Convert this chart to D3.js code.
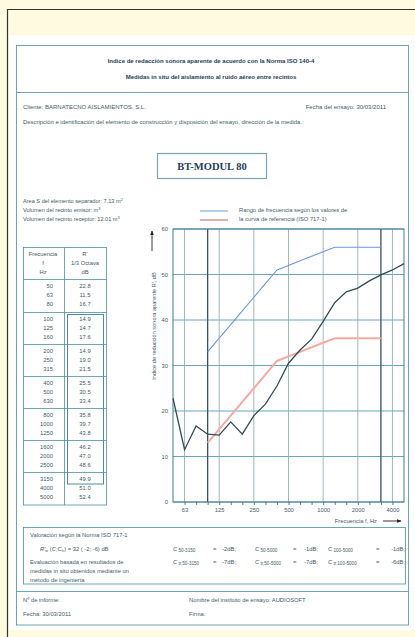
<!DOCTYPE html>
<html>
<head>
<meta charset="utf-8">
<script src="https://cdn.jsdelivr.net/npm/d3@7"></script>
<style>
  body { margin: 0; background: #fffae0; }
  svg { display: block; font-family: "Liberation Sans", Arial, sans-serif; }
</style>
</head>
<body>
<script>
// data
const freqs = [50, 63, 80, 100, 125, 160, 200, 250, 315, 400, 500, 630, 800, 1000, 1250, 1600, 2000, 2500, 3150, 4000, 5000];
const measured = [22.8, 11.5, 16.7, 14.9, 14.7, 17.6, 14.9, 19.0, 21.5, 25.5, 30.5, 33.4, 35.8, 39.7, 43.8, 46.2, 47.0, 48.6, 49.9, 51.0, 52.4];
const refFreqs = [100, 125, 160, 200, 250, 315, 400, 500, 630, 800, 1000, 1250, 1600, 2000, 2500, 3150];
const refCurve = [33, 36, 39, 42, 45, 48, 51, 52, 53, 54, 55, 56, 56, 56, 56, 56];
const shiftedCurve = [13, 16, 19, 22, 25, 28, 31, 32, 33, 34, 35, 36, 36, 36, 36, 36];
const octaveLabels = [63, 125, 250, 500, 1000, 2000, 4000];
const yTicks = [0, 10, 20, 30, 40, 50, 60];

const W = 415, H = 637;
const textCol = "#3f5b66", darkCol = "#22405a", lineCol = "#4a8ea2";

const svg = d3.select("body").append("svg").attr("width", W).attr("height", H);

// page background + outer frame
svg.append("rect").attr("width", W).attr("height", H).attr("fill", "#fffae0");
svg.append("rect").attr("x", 9).attr("y", 35).attr("width", W - 9).attr("height", 595).attr("fill", "#ffffff");
svg.append("line").attr("x1", 7.5).attr("x2", 7.5).attr("y1", 9).attr("y2", H).attr("stroke", "#333").attr("stroke-width", 1.2);
svg.append("line").attr("x1", 7).attr("x2", W).attr("y1", 9.5).attr("y2", 9.5).attr("stroke", "#333").attr("stroke-width", 1.2);

// document box
const doc = svg.append("g").attr("fill", "none").attr("stroke", lineCol).attr("stroke-width", 0.8);
doc.append("rect").attr("x", 16.5).attr("y", 45.5).attr("width", 392).attr("height", 579.5);
doc.append("line").attr("x1", 16.5).attr("x2", 408.5).attr("y1", 92.5).attr("y2", 92.5);
doc.append("line").attr("x1", 16.5).attr("x2", 408.5).attr("y1", 591.5).attr("y2", 591.5);
doc.append("rect").attr("x", 23.5).attr("y", 527.5).attr("width", 382).attr("height", 56.5);

function txt(x, y, s, opts = {}) {
  return svg.append("text").attr("x", x).attr("y", y)
    .attr("font-size", opts.size || 6)
    .attr("font-weight", opts.weight || "normal")
    .attr("text-anchor", opts.anchor || "start")
    .attr("fill", opts.fill || textCol)
    .text(s);
}

// header
txt(211, 63, "Indice de redacción sonora aparente de acuerdo con la Norma ISO 140-4", { size: 6, weight: "bold", anchor: "middle", fill: darkCol });
txt(211, 79, "Medidas in situ del aislamiento al ruido aéreo entre recintos", { size: 6, weight: "bold", anchor: "middle", fill: darkCol });
txt(23, 109, "Cliente: BARNATECNO AISLAMIENTOS, S.L.");
txt(386, 109, "Fecha del ensayo: 30/03/2011", { anchor: "end" });
txt(23, 124, "Descripción e identificación del elemento de construcción y disposición del ensayo, dirección de la medida.:", { size: 5.9 });

svg.append("rect").attr("x", 157.5).attr("y", 153.5).attr("width", 109).attr("height", 25)
  .attr("fill", "none").attr("stroke", "#7aa5b0").attr("stroke-width", 1.2);
svg.append("text").attr("x", 212).attr("y", 170).attr("text-anchor", "middle")
  .attr("font-family", "'Liberation Serif', 'DejaVu Serif', serif").attr("font-weight", "bold")
  .attr("font-size", 10.5).attr("fill", darkCol).text("BT-MODUL 80");

const area = txt(23, 203, "Area S del elemento separador: 7.13 m", { size: 5.6 });
area.append("tspan").attr("font-size", 4).attr("dy", -2).text("2");
const ve = txt(23, 212, "Volumen del recinto emisor:  m", { size: 5.6 });
ve.append("tspan").attr("font-size", 4).attr("dy", -2).text("3");
const vr = txt(23, 221, "Volumen del recinto receptor: 12.01 m", { size: 5.6 });
vr.append("tspan").attr("font-size", 4).attr("dy", -2).text("3");

// legend
svg.append("line").attr("x1", 200).attr("x2", 228).attr("y1", 211).attr("y2", 211).attr("stroke", "#6b97dc").attr("stroke-width", 1);
svg.append("line").attr("x1", 200).attr("x2", 228).attr("y1", 220).attr("y2", 220).attr("stroke", "#c8605a").attr("stroke-width", 1);
txt(239, 212, "Rango de frecuencia según los valores de", { size: 5.8 });
txt(239, 221, "la curva de referencia (ISO 717-1)", { size: 5.8 });

// table
const tX0 = 23.5, tX1 = 106.5, tMid = 64.5, tTop = 247.5, tHead = 279.5, tBot = 505;
const groupTops = [279.5, 312.5, 344.5, 376.5, 408.5, 440.5, 472.5];
const tab = svg.append("g").attr("fill", "none").attr("stroke", lineCol).attr("stroke-width", 0.8);
tab.append("rect").attr("x", tX0).attr("y", tTop).attr("width", tX1 - tX0).attr("height", tBot - tTop);
tab.append("line").attr("x1", tMid).attr("x2", tMid).attr("y1", tTop).attr("y2", tBot);
tab.selectAll("line.sep").data(groupTops).join("line").attr("class", "sep")
  .attr("x1", tX0).attr("x2", tX1).attr("y1", d => d).attr("y2", d => d);
tab.append("rect").attr("x", 67.5).attr("y", 314.5).attr("width", 36).attr("height", 169.5).attr("stroke-width", 1);

[["Frecuencia", "f", "Hz"], ["R'", "1/3 Octava", "dB"]].forEach((col, ci) => {
  col.forEach((s, ri) => txt(ci === 0 ? 43 : 85, 256 + ri * 9, s, { size: 5.8, anchor: "middle" }));
});
freqs.forEach((f, i) => {
  const g = Math.floor(i / 3), j = i % 3;
  const y = groupTops[g] + 8.3 + j * 9.3;
  txt(53, y, String(f), { size: 5.8, anchor: "end" });
  txt(85, y, measured[i].toFixed(1), { size: 5.8, anchor: "middle" });
});

// chart
const x = d3.scalePoint().domain(freqs).range([173, 404]);
const y = d3.scaleLinear().domain([0, 60]).range([502, 229]);
const chart = svg.append("g");

// horizontal grid
chart.selectAll("line.hg").data(yTicks).join("line").attr("class", "hg")
  .attr("x1", x(50)).attr("x2", x(5000)).attr("y1", d => y(d)).attr("y2", d => y(d))
  .attr("stroke", "#3f8fb0").attr("stroke-width", 0.8);
// vertical octave grid
chart.selectAll("line.vg").data(octaveLabels).join("line").attr("class", "vg")
  .attr("x1", d => x(d)).attr("x2", d => x(d)).attr("y1", y(60)).attr("y2", y(0))
  .attr("stroke", "#8aa4aa").attr("stroke-width", 0.8);
// range limits 100 Hz and 3150 Hz
chart.selectAll("line.lim").data([100, 3150]).join("line").attr("class", "lim")
  .attr("x1", d => x(d)).attr("x2", d => x(d)).attr("y1", y(60)).attr("y2", y(0))
  .attr("stroke", "#36525a").attr("stroke-width", 1.3);
// frame
chart.append("rect").attr("x", x(50)).attr("y", y(60)).attr("width", x(5000) - x(50)).attr("height", y(0) - y(60))
  .attr("fill", "none").attr("stroke", "#3f7f90").attr("stroke-width", 1);

// y axis
const yAxis = chart.append("g").attr("transform", `translate(${x(50)},0)`)
  .call(d3.axisLeft(y).tickValues(yTicks).tickSize(0).tickPadding(5));
yAxis.select(".domain").remove();
yAxis.selectAll("text").attr("font-size", 5.8).attr("fill", textCol).attr("font-family", "'Liberation Sans', Arial, sans-serif");

// x axis: 1/3 octave ticks, octave labels
const xAxis = chart.append("g").attr("transform", `translate(0,${y(0)})`)
  .call(d3.axisBottom(x).tickValues(freqs.slice(1, 20)).tickSize(3).tickPadding(3)
    .tickFormat(d => octaveLabels.includes(d) ? d : ""));
xAxis.select(".domain").remove();
xAxis.selectAll("line").attr("stroke", "#3f5b66").attr("stroke-width", 0.8);
xAxis.selectAll("text").attr("font-size", 5.8).attr("fill", textCol).attr("font-family", "'Liberation Sans', Arial, sans-serif");

// axis titles
svg.append("defs").append("marker").attr("id", "arr").attr("viewBox", "0 0 10 10")
  .attr("refX", 9).attr("refY", 5).attr("markerWidth", 5).attr("markerHeight", 5).attr("orient", "auto")
  .append("path").attr("d", "M0,1L10,5L0,9Z").attr("fill", "#222");
svg.append("line").attr("x1", 152).attr("x2", 152).attr("y1", 251).attr("y2", 231)
  .attr("stroke", "#222").attr("stroke-width", 0.9).attr("marker-end", "url(#arr)");
svg.append("text").attr("transform", "translate(156,326) rotate(-90)").attr("text-anchor", "middle")
  .attr("font-size", 5.6).attr("fill", textCol).text("Indice de reducción sonora aparente R', dB");
txt(377, 523, "Frecuencia f, Hz", { size: 5.8, anchor: "end" });
svg.append("line").attr("x1", 383).attr("x2", 401).attr("y1", 521).attr("y2", 521)
  .attr("stroke", "#222").attr("stroke-width", 0.9).attr("marker-end", "url(#arr)");

// curves
const line = d3.line().x(d => x(d[0])).y(d => y(d[1]));
chart.append("path").datum(d3.zip(refFreqs, shiftedCurve)).attr("d", line)
  .attr("fill", "none").attr("stroke", "#f4aaa2").attr("stroke-width", 2);
chart.append("path").datum(d3.zip(refFreqs, refCurve)).attr("d", line)
  .attr("fill", "none").attr("stroke", "#6b97dc").attr("stroke-width", 1.1);
chart.append("path").datum(d3.zip(freqs, measured)).attr("d", line)
  .attr("fill", "none").attr("stroke", "#2f4d52").attr("stroke-width", 1.3);

// valoración
txt(30, 537, "Valoración según la Norma ISO 717-1", { size: 5.8 });
const rw = txt(40, 551, "", { size: 5.8 });
rw.append("tspan").attr("font-style", "italic").text("R'");
rw.append("tspan").attr("font-size", 4).attr("dy", 1).text("w");
rw.append("tspan").attr("dy", -1).text(" (");
rw.append("tspan").attr("font-style", "italic").text("C");
rw.append("tspan").text(";");
rw.append("tspan").attr("font-style", "italic").text("C");
rw.append("tspan").attr("font-size", 4).attr("dy", 1).text("tr");
rw.append("tspan").attr("dy", -1).text(")  =   32 ( -2; -6) dB");

const cRows = [
  { y: 551, sub: ["50-3150", "50-5000", "100-5000"], val: ["-2dB;", "-1dB;", "-1dB;"] },
  { y: 564, sub: ["tr,50-3150", "tr,50-5000", "tr,100-5000"], val: ["-7dB;", "-7dB;", "-6dB;"] }
];
const cX = [173, 255, 328], eqX = [213, 293, 376], vX = [236, 318, 405];
cRows.forEach(r => {
  r.sub.forEach((s, k) => {
    const t = txt(cX[k], r.y, "", { size: 5.8 });
    t.append("tspan").attr("font-style", "italic").text("C");
    t.append("tspan").attr("font-size", 4.6).attr("dy", 1).text(" " + s);
    txt(eqX[k], r.y, "=", { size: 5.8 });
    txt(vX[k], r.y, r.val[k], { size: 5.8, anchor: "end" });
  });
});
txt(30, 564, "Evaluación basada en resultados de", { size: 5.8 });
txt(30, 573, "medidas in situ obtenidos mediante un", { size: 5.8 });
txt(30, 582, "método de ingeniería", { size: 5.8 });

// footer
txt(23, 602, "Nº de informe:", { size: 5.8 });
txt(189, 602, "Nombre del instituto de ensayo: AUDIOSOFT", { size: 5.8 });
txt(23, 616, "Fecha: 30/03/2011", { size: 5.8 });
txt(189, 616, "Firma:", { size: 5.8 });
</script>
</body>
</html>
